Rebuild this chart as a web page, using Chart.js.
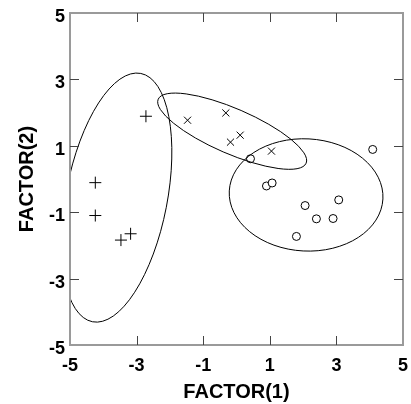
<!DOCTYPE html>
<html>
<head>
<meta charset="utf-8">
<script src="https://cdn.jsdelivr.net/npm/chart.js@4/dist/chart.umd.min.js"></script>
<style>
  html, body { margin: 0; padding: 0; background: #fff; }
  #wrap { width: 411px; height: 404px; }
</style>
</head>
<body>
<div id="wrap"><canvas id="chart"></canvas></div>
<script>
const tickValues = [-5, -3, -1, 1, 3, 5];

const plusX = [-2.72, -4.24, -4.24, -3.47, -3.18];
const plusY = [1.89, -0.11, -1.10, -1.84, -1.65];

const crossX = [-1.47, -0.32, -0.18, 0.11, 1.05];
const crossY = [1.77, 1.99, 1.11, 1.32, 0.84];

const circleX = [0.42, 4.09, 0.90, 1.07, 2.06, 3.07, 2.40, 2.90, 1.80];
const circleY = [0.61, 0.89, -0.21, -0.12, -0.80, -0.63, -1.20, -1.19, -1.73];

// ellipses in data units: centre, semi-axes, rotation (deg, clockwise on screen)
const ellipseCx = [-3.60, -0.13, 2.09];
const ellipseCy = [-0.56, 1.44, -0.48];
const ellipseRx = [1.52, 2.42, 2.31];
const ellipseRy = [3.81, 0.68, 1.69];
const ellipseRot = [11, 23.4, 3];

const pts = (xs, ys) => xs.map((x, i) => ({ x, y: ys[i] }));
const family = 'Liberation Sans, Arial, sans-serif';

const framePlugin = {
  id: 'frame',
  afterDatasetsDraw(chart) {
    const { ctx, chartArea: a, scales: { x, y } } = chart;
    ctx.save();
    // ellipses
    ctx.beginPath();
    ctx.rect(a.left, a.top, a.right - a.left, a.bottom - a.top);
    ctx.clip();
    ctx.strokeStyle = '#000';
    ctx.lineWidth = 1;
    ellipseCx.forEach((cx, i) => {
      const px = x.getPixelForValue(cx);
      const py = y.getPixelForValue(ellipseCy[i]);
      const rx = Math.abs(x.getPixelForValue(cx + ellipseRx[i]) - px);
      const ry = Math.abs(y.getPixelForValue(ellipseCy[i] + ellipseRy[i]) - py);
      ctx.beginPath();
      ctx.ellipse(px, py, rx, ry, ellipseRot[i] * Math.PI / 180, 0, Math.PI * 2);
      ctx.stroke();
    });
    ctx.restore();

    ctx.save();
    // frame
    ctx.strokeStyle = '#9a9a9a';
    ctx.lineWidth = 2;
    ctx.strokeRect(a.left, a.top, a.right - a.left, a.bottom - a.top);
    // inward ticks on all sides
    ctx.strokeStyle = '#444';
    ctx.lineWidth = 1;
    const len = 9;
    tickValues.slice(1, -1).forEach(v => {
      const px = Math.round(x.getPixelForValue(v)) + 0.5;
      const py = Math.round(y.getPixelForValue(v)) + 0.5;
      ctx.beginPath();
      ctx.moveTo(px, a.bottom); ctx.lineTo(px, a.bottom - len);
      ctx.moveTo(px, a.top); ctx.lineTo(px, a.top + len);
      ctx.moveTo(a.left, py); ctx.lineTo(a.left + len, py);
      ctx.moveTo(a.right, py); ctx.lineTo(a.right - len, py);
      ctx.stroke();
    });
    ctx.restore();
  }
};

new Chart(document.getElementById('chart'), {
  type: 'scatter',
  data: {
    datasets: [
      { data: pts(plusX, plusY), pointStyle: 'cross', pointRadius: 6, borderColor: '#000', borderWidth: 1 },
      { data: pts(crossX, crossY), pointStyle: 'crossRot', pointRadius: 5, borderColor: '#000', borderWidth: 1 },
      { data: pts(circleX, circleY), pointStyle: 'circle', pointRadius: 4, borderColor: '#000', backgroundColor: '#fff', borderWidth: 1 }
    ]
  },
  options: {
    responsive: true,
    maintainAspectRatio: false,
    animation: false,
    layout: { padding: { top: 13, right: 8, left: 15, bottom: 0 } },
    scales: {
      x: {
        min: -5, max: 5,
        afterBuildTicks: s => { s.ticks = tickValues.map(value => ({ value })); },
        afterFit: s => { s.height = 59; },
        grid: { display: false, drawTicks: false },
        border: { display: false },
        ticks: { color: '#000', font: { family, weight: 'bold', size: 18, lineHeight: 2.0 }, padding: 3, maxRotation: 0 },
        title: { display: true, text: 'FACTOR(1)', color: '#000', font: { family, weight: 'bold', size: 20 }, padding: 0 }
      },
      y: {
        min: -5, max: 5,
        afterBuildTicks: s => { s.ticks = tickValues.map(value => ({ value })); },
        afterFit: s => { s.width = 55; },
        grid: { display: false, drawTicks: false },
        border: { display: false },
        ticks: { color: '#000', font: { family, weight: 'bold', size: 18, lineHeight: 0.8 }, padding: 5, labelOffset: 4 },
        title: { display: true, text: 'FACTOR(2)', color: '#000', font: { family, weight: 'bold', size: 20 }, padding: 0 }
      }
    },
    plugins: { legend: { display: false }, tooltip: { enabled: false } }
  },
  plugins: [framePlugin]
});
</script>
</body>
</html>
